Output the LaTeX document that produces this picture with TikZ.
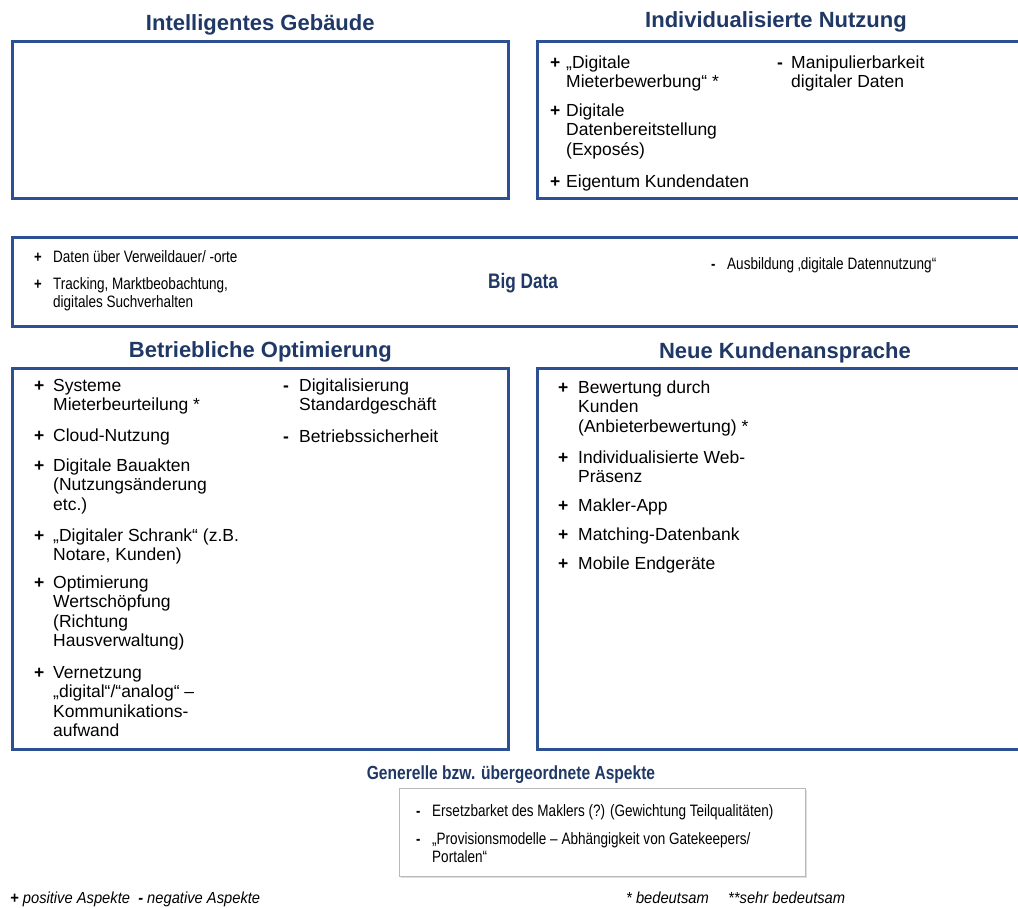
\documentclass[tikz,border=0pt]{standalone}
\usepackage{fontspec}
\setmainfont{Liberation Sans}
\newfontfamily\narrowfont[FakeStretch=0.82]{Liberation Sans}
\newfontfamily\notefont[FakeStretch=0.92]{Liberation Sans}
\usepackage{xcolor}
\usetikzlibrary{positioning,shadows}

\definecolor{titleblue}{RGB}{31,56,102}
\definecolor{frameblue}{RGB}{44,80,145}

% lines of one entry, baseline on the first line
\newcommand{\lines}[1]{\begin{tabular}[t]{@{}l@{}}#1\end{tabular}}

\begin{document}
\begin{tikzpicture}[
    x=1pt, y=-1pt,
    panel/.style={draw=frameblue, line width=2.6pt, anchor=north west, inner sep=0pt},
    panel title/.style={font=\fontsize{22}{24}\selectfont\bfseries, text=titleblue, inner sep=0pt},
    sign/.style={anchor=base west, inner sep=0pt, font=\fontsize{17.5}{20}\selectfont\bfseries},
    entry/.style={anchor=base west, inner sep=0pt, font=\fontsize{17.5}{19.5}\selectfont},
    small sign/.style={anchor=base west, inner sep=0pt, font=\narrowfont\fontsize{16}{18}\selectfont\bfseries},
    small entry/.style={anchor=base west, inner sep=0pt, font=\narrowfont\fontsize{16.5}{18}\selectfont},
    note/.style={anchor=base west, inner sep=0pt, font=\notefont\fontsize{16}{18}\selectfont\itshape}
]
    \clip (0,0) rectangle (1018,908);

    % Panels
    \node[panel, minimum width=496pt, minimum height=157pt] (gebaeude) at (11,40) {};
    \node[panel title, above=5pt of gebaeude] (t-gebaeude) {Intelligentes Gebäude};

    \node[panel, minimum width=500pt, minimum height=157pt] (nutzung) at (536,40) {};
    \node[panel title] (t-nutzung) at (776,22) {Individualisierte Nutzung};

    \node[panel, minimum width=1025pt, minimum height=89pt] (bigdata) at (11,236) {};
    \node[font=\narrowfont\fontsize{21}{24}\selectfont\bfseries, text=titleblue, inner sep=0pt] (t-bigdata) at (523,283) {Big Data};

    \node[panel, minimum width=496pt, minimum height=381pt] (betrieb) at (11,367) {};
    \node[panel title, above=5pt of betrieb] (t-betrieb) {Betriebliche Optimierung};

    \node[panel, minimum width=500pt, minimum height=381pt] (kunden) at (536,367) {};
    \node[panel title] (t-kunden) at (785,353) {Neue Kundenansprache};

    \node[draw=gray!55, line width=0.8pt, fill=white, anchor=north west, minimum width=406pt, minimum height=88pt,
          drop shadow={opacity=0.25, shadow xshift=1.5pt, shadow yshift=-1.5pt}] (generell) at (399,788) {};
    \node[font=\narrowfont\fontsize{19}{22}\selectfont\bfseries, text=titleblue, inner sep=0pt] (t-generell) at (511,775) {Generelle bzw. übergeordnete Aspekte};

    % Individualisierte Nutzung
    \foreach \i/\y/\txt in {1/68/{„Digitale\\Mieterbewerbung“ *}, 2/116/{Digitale\\Datenbereitstellung\\(Exposés)}, 3/187/{Eigentum Kundendaten}} {
      \node[sign] (nu-p\i) at (550,\y) {+};
      \node[entry] (nu-t\i) at (566,\y) {\lines{\txt}};
    }
    \node[sign] (nu-m1) at (777,68) {-};
    \node[entry] (nu-n1) at (791,68) {\lines{Manipulierbarkeit\\digitaler Daten}};

    % Big Data
    \foreach \i/\y/\txt in {1/262/{Daten über Verweildauer/ -orte}, 2/289/{Tracking, Marktbeobachtung,\\digitales Suchverhalten}} {
      \node[small sign] (bd-p\i) at (34,\y) {+};
      \node[small entry] (bd-t\i) at (53,\y) {\lines{\txt}};
    }
    \node[small sign] (bd-m1) at (711,269) {-};
    \node[small entry] (bd-n1) at (727,269) {Ausbildung ‚digitale Datennutzung“};

    % Betriebliche Optimierung
    \foreach \i/\y/\txt in {1/391/{Systeme\\Mieterbeurteilung *}, 2/441/{Cloud-Nutzung},
                            3/471/{Digitale Bauakten\\(Nutzungsänderung\\etc.)}, 4/541/{„Digitaler Schrank“ (z.B.\\Notare, Kunden)},
                            5/588/{Optimierung\\Wertschöpfung\\(Richtung\\Hausverwaltung)},
                            6/678/{Vernetzung\\„digital“/“analog“ –\\Kommunikations-\\aufwand}} {
      \node[sign] (bo-p\i) at (34,\y) {+};
      \node[entry] (bo-t\i) at (53,\y) {\lines{\txt}};
    }
    \foreach \i/\y/\txt in {1/391/{Digitalisierung\\Standardgeschäft}, 2/442/{Betriebssicherheit}} {
      \node[sign] (bo-m\i) at (283,\y) {-};
      \node[entry] (bo-n\i) at (299,\y) {\lines{\txt}};
    }

    % Neue Kundenansprache
    \foreach \i/\y/\txt in {1/393/{Bewertung durch\\Kunden\\(Anbieterbewertung) *}, 2/463/{Individualisierte Web-\\Präsenz},
                            3/511/{Makler-App}, 4/540/{Matching-Datenbank}, 5/569/{Mobile Endgeräte}} {
      \node[sign] (nk-p\i) at (558,\y) {+};
      \node[entry] (nk-t\i) at (578,\y) {\lines{\txt}};
    }

    % Generelle Aspekte
    \foreach \i/\y/\txt in {1/816/{Ersetzbarket des Maklers (?) (Gewichtung Teilqualitäten)},
                            2/844/{„Provisionsmodelle – Abhängigkeit von Gatekeepers/\\Portalen“}} {
      \node[small sign] (ga-m\i) at (416,\y) {-};
      \node[small entry] (ga-n\i) at (432,\y) {\lines{\txt}};
    }

    % Legende
    \node[note] (leg-pm) at (10,903) {\textbf{+} positive Aspekte\ \ \textbf{-} negative Aspekte};
    \node[note] (leg-b) at (626,903) {* bedeutsam};
    \node[note] (leg-sb) at (728,903) {**sehr bedeutsam};
\end{tikzpicture}
\end{document}
